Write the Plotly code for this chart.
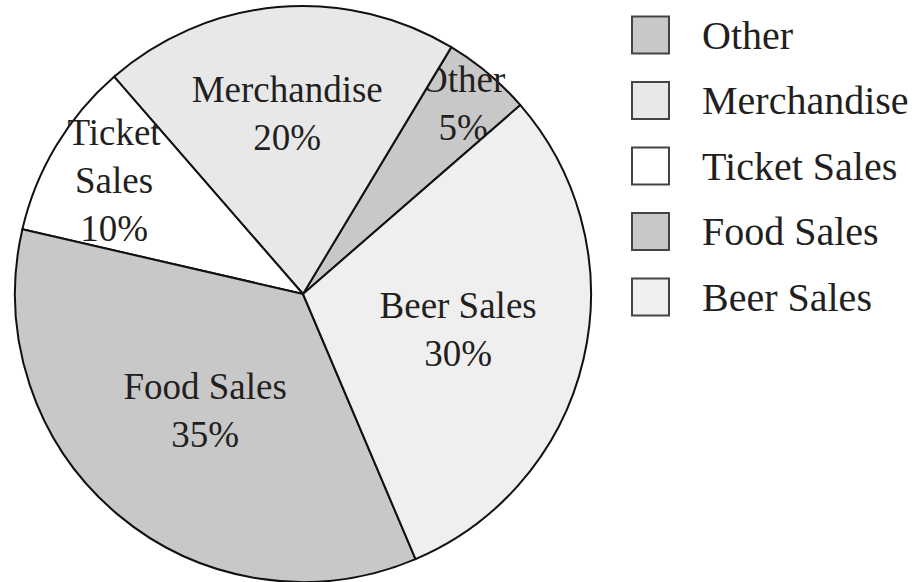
import plotly.graph_objects as go

# Revenue share by source
labels = ["Other", "Merchandise", "Ticket Sales", "Food Sales", "Beer Sales"]
shares = [5, 20, 10, 35, 30]
slice_text = ["Other", "Merchandise", "Ticket<br>Sales", "Food Sales", "Beer Sales"]
colors = ["#c8c8c8", "#e8e8e8", "#ffffff", "#c8c8c8", "#efefef"]

W, H = 919, 582
FONT = "Liberation Serif"
INK = "#231f20"

fig = go.Figure(
    go.Pie(
        labels=labels,
        values=shares,
        text=[f"{t}<br>{v}%" for t, v in zip(slice_text, shares)],
        textinfo="text",
        textposition="inside",
        insidetextorientation="horizontal",
        textfont=dict(family=FONT, size=37, color=INK),
        marker=dict(colors=colors, line=dict(color="#111111", width=2)),
        sort=False,
        direction="counterclockwise",
        rotation=31,
        hoverinfo="label+percent",
        showlegend=False,
        domain=dict(x=[15 / W, 591 / W], y=[0, 576 / H]),
    )
)

# Legend drawn as swatches + labels at the right
shapes, annotations = [], []
row0, row_step, box = 35, 65.5, 37
for i, (lab, col) in enumerate(zip(labels, colors)):
    cy = row0 + i * row_step
    shapes.append(dict(
        type="rect", xref="paper", yref="paper",
        x0=632 / W, x1=(632 + box) / W,
        y0=1 - (cy + box / 2) / H, y1=1 - (cy - box / 2) / H,
        fillcolor=col, line=dict(color="#444444", width=2),
    ))
    annotations.append(dict(
        text=lab, xref="paper", yref="paper",
        x=700 / W, y=1 - cy / H, xanchor="left", yanchor="middle",
        showarrow=False, font=dict(family=FONT, size=40, color=INK),
    ))

fig.update_layout(
    width=W, height=H,
    margin=dict(l=0, r=0, t=0, b=0),
    paper_bgcolor="white",
    plot_bgcolor="white",
    uniformtext=dict(minsize=37, mode="show"),
    shapes=shapes,
    annotations=annotations,
)

fig.write_html("out.html")
